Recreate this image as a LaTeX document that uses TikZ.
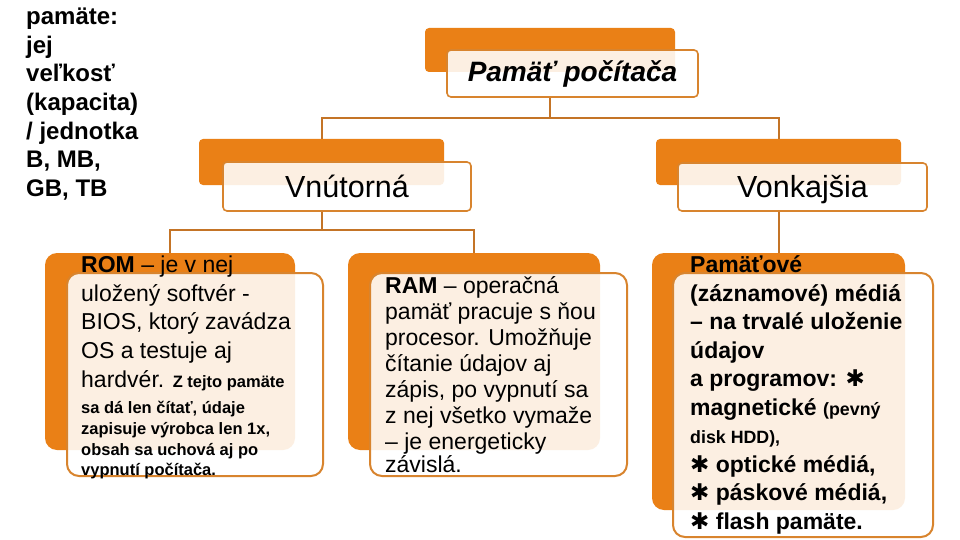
\documentclass[tikz,border=0pt]{standalone}
\usepackage{fontspec}
\setmainfont{Liberation Sans}
\newfontfamily\symfont{DejaVu Sans}
\usetikzlibrary{positioning}

\definecolor{boxorange}{RGB}{234,128,22}
\definecolor{edgeorange}{RGB}{216,132,46}
\definecolor{linebrown}{RGB}{196,116,38}

\newcommand{\smallb}{\bfseries\fontsize{16.5}{20}\selectfont}
\newcommand{\midb}{\bfseries\fontsize{17.8}{20}\selectfont}
\newcommand{\bullstar}{{\symfont ✱}}

\begin{document}
\begin{tikzpicture}[x=1pt, y=-1pt,
    backbox/.style={fill=boxorange, rounded corners=4pt, inner sep=0pt},
    frontbox/.style={draw=edgeorange, line width=1.6pt, fill=white, fill opacity=0.88,
        text opacity=1, rounded corners=4pt, inner sep=0pt},
    titletext/.style={font=\fontsize{30.5}{32}\selectfont, text height=27, text depth=6},
    textblock/.style={anchor=north west, inner sep=0pt, align=left},
    link/.style={draw=linebrown, line width=2pt}]
    \fill[white] (0,0) rectangle (960,540);
    \useasboundingbox (0,0) rectangle (960,540);

    % note on the left
    \node[textblock, font=\bfseries\fontsize{24}{28.6}\selectfont] (note) at (26,7.8)
        {pamäte:\\jej\\veľkosť\\(kapacita)\\/ jednotka\\B, MB,\\GB, TB};

    % top level
    \node[backbox, minimum width=250, minimum height=44] (topbk) at (550,50) {};
    \node[frontbox, minimum width=251, minimum height=47,
        font=\bfseries\itshape\fontsize{28}{30}\selectfont] (topfr) at (572.5,73.5) {Pamäť počítača};

    % second level
    \node[backbox, minimum width=245, minimum height=46] (inbk) at (321.5,162) {};
    \node[frontbox, titletext, minimum width=248, minimum height=49] (infr) at (347,186.5) {Vnútorná};
    \node[backbox, minimum width=245, minimum height=46] (outbk) at (778.5,162) {};
    \node[frontbox, titletext, minimum width=249, minimum height=48] (outfr) at (802.5,187) {Vonkajšia};

    % third level
    \node[backbox, rounded corners=12pt, minimum width=250, minimum height=197] (rombk) at (170,351.5) {};
    \node[frontbox, rounded corners=12pt, line width=2pt, minimum width=256, minimum height=203] (romfr) at (195,374.5) {};
    \node[backbox, rounded corners=12pt, minimum width=252, minimum height=197] (rambk) at (474,351.5) {};
    \node[frontbox, rounded corners=12pt, line width=2pt, minimum width=257, minimum height=203] (ramfr) at (498.5,374.5) {};
    \node[backbox, rounded corners=12pt, minimum width=253, minimum height=257] (medbk) at (778.5,381.5) {};
    \node[frontbox, rounded corners=12pt, line width=2pt, minimum width=260, minimum height=264] (medfr) at (803,405) {};

    % connectors
    \draw[link] (topfr.south -| topbk.south) -- ++(0,20) coordinate (topsplit);
    \draw[link] (inbk.north) |- (topsplit) -| (outbk.north);
    \draw[link] (infr.south -| inbk.south) -- ++(0,18) coordinate (insplit);
    \draw[link] (rombk.north) |- (insplit) -| (rambk.north);
    \draw[link] (outfr.south -| outbk.south) -- (medbk.north);

    % texts of the boxes
    \node[textblock, font=\fontsize{23}{28.7}\selectfont] (romtxt) at (81,255.5)
        {\textbf{ROM} – je v nej\\uložený softvér -\\BIOS, ktorý zavádza\\OS a testuje aj\\
         hardvér. {\smallb Z tejto pamäte}\\[-2.7pt]
         {\smallb sa dá len čítať, údaje}\\[-7.2pt]
         {\smallb zapisuje výrobca len 1x,}\\[-7.7pt]
         {\smallb obsah sa uchová aj po}\\[-8.7pt]
         {\smallb vypnutí počítača.}};
    \node[textblock, font=\fontsize{23}{26}\selectfont] (ramtxt) at (385,276)
        {\textbf{RAM} – operačná\\pamäť pracuje s ňou\\procesor. Umožňuje\\čítanie údajov aj\\
         zápis, po vypnutí sa\\z nej všetko vymaže\\– je energeticky\\[-2.5pt]závislá.};
    \node[textblock, font=\bfseries\fontsize{23}{28.5}\selectfont] (medtxt) at (690,255.5)
        {Pamäťové\\(záznamové) médiá\\– na trvalé uloženie\\údajov\\a programov: \bullstar\\
         magnetické {\midb (pevný}\\{\midb disk HDD),}\\\bullstar{} optické médiá,\\
         \bullstar{} páskové médiá,\\\bullstar{} flash pamäte.};
\end{tikzpicture}
\end{document}
